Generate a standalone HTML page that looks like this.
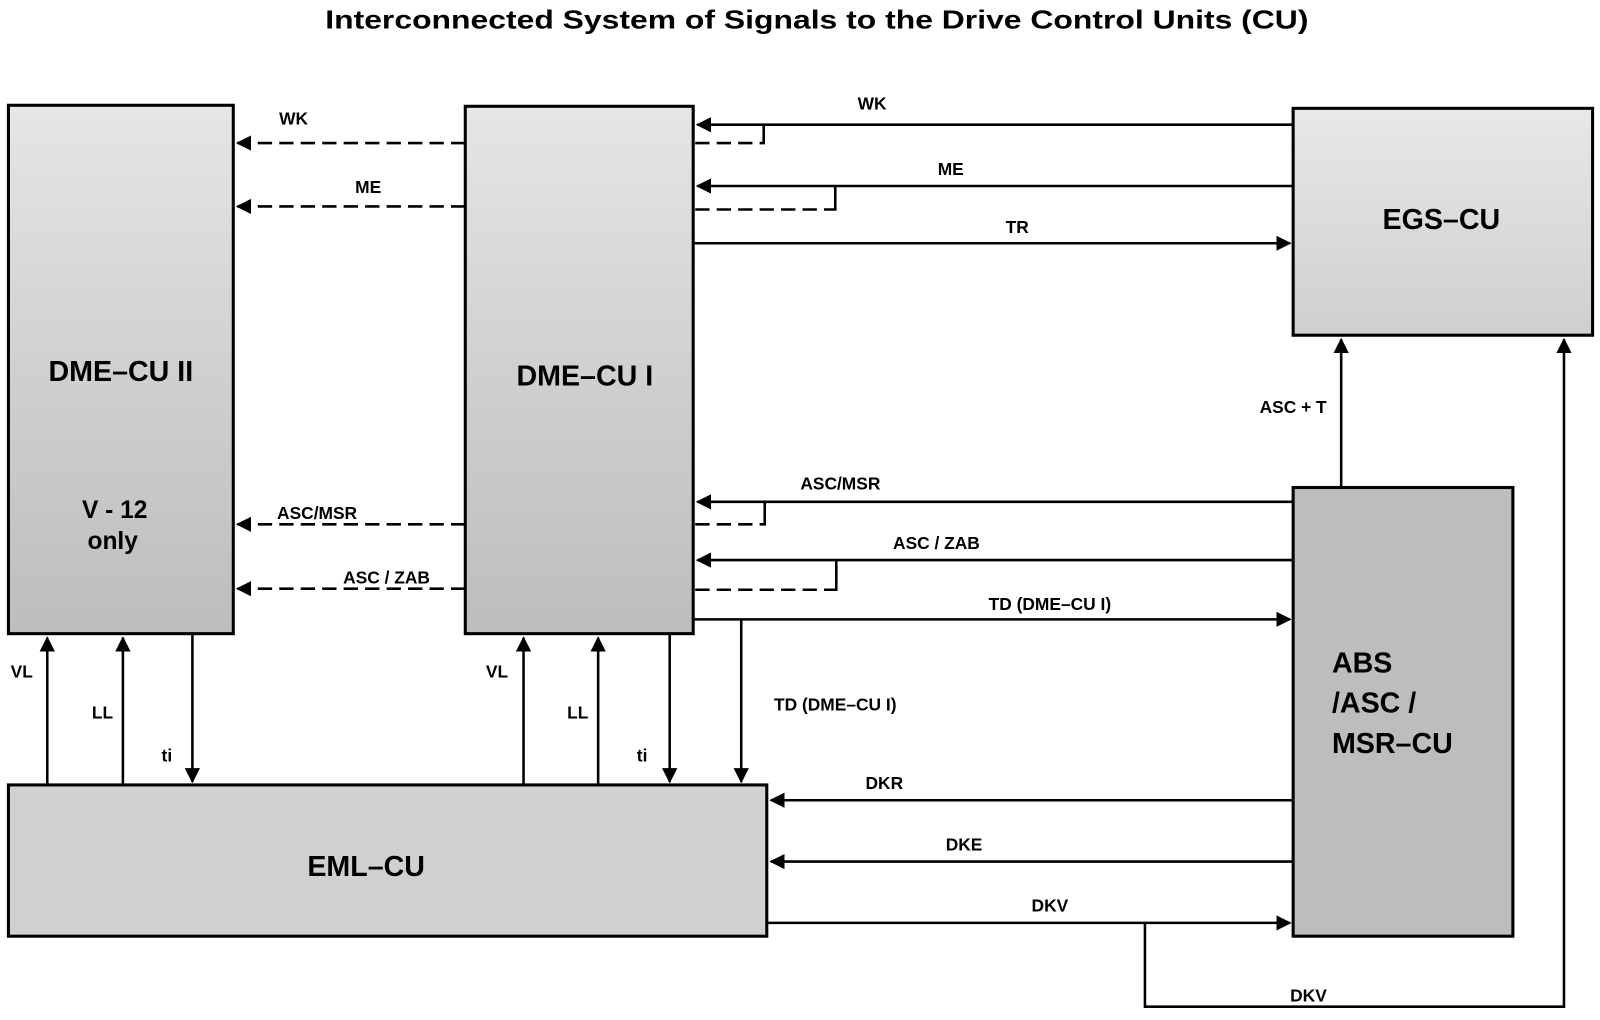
<!DOCTYPE html>
<html><head><style>html,body{margin:0;padding:0;background:#fff}svg{display:block}</style></head>
<body>
<svg width="1600" height="1020" viewBox="0 0 1565 998" xmlns="http://www.w3.org/2000/svg" font-family="Liberation Sans, sans-serif" font-weight="bold">
<defs>
<linearGradient id="g1" x1="0" y1="0" x2="0" y2="1"><stop offset="0" stop-color="#e6e6e6"/><stop offset="0.5" stop-color="#d0d0d0"/><stop offset="1" stop-color="#bdbdbd"/></linearGradient>
<linearGradient id="g2" x1="0" y1="0" x2="0" y2="1"><stop offset="0" stop-color="#e8e8e8"/><stop offset="1" stop-color="#cfcfcf"/></linearGradient>
<marker id="a" viewBox="0 0 10 10" refX="9" refY="5" markerWidth="6" markerHeight="6" orient="auto-start-reverse"><path d="M0,0L10,5L0,10z" fill="#000"/></marker>
</defs>
<text x="318" y="28" font-size="25" textLength="962" lengthAdjust="spacingAndGlyphs">Interconnected System of Signals to the Drive Control Units (CU)</text>
<g stroke="#000" stroke-width="3">
<rect x="8" y="103" width="220" height="517" fill="url(#g1)"/>
<rect x="455" y="104" width="223" height="516" fill="url(#g1)"/>
<rect x="1265" y="106" width="293" height="222" fill="url(#g2)"/>
<rect x="1265" y="477" width="215" height="439" fill="#bdbdbd"/>
<rect x="8" y="768" width="742" height="148" fill="#d0d0d0"/>
</g>
<g stroke="#000" stroke-width="2.5" fill="none">
<g stroke-dasharray="14,7">
<line x1="455" y1="140" x2="232" y2="140" marker-end="url(#a)"/>
<line x1="455" y1="202" x2="232" y2="202" marker-end="url(#a)"/>
<line x1="455" y1="513" x2="232" y2="513" marker-end="url(#a)"/>
<line x1="455" y1="576" x2="232" y2="576" marker-end="url(#a)"/>
</g>
<polyline points="680,140 747,140 747,122" stroke-dasharray="14,7"/>
<polyline points="680,205 817,205 817,182" stroke-dasharray="14,7"/>
<polyline points="680,513 748,513 748,491" stroke-dasharray="14,7"/>
<polyline points="680,577 818,577 818,548" stroke-dasharray="14,7"/>
<line x1="747" y1="122" x2="747" y2="140"/>
<line x1="817" y1="182" x2="817" y2="205"/>
<line x1="748" y1="491" x2="748" y2="513"/>
<line x1="818" y1="548" x2="818" y2="577"/>
<line x1="1265" y1="122" x2="682" y2="122" marker-end="url(#a)"/>
<line x1="1265" y1="182" x2="682" y2="182" marker-end="url(#a)"/>
<line x1="678" y1="238" x2="1262" y2="238" marker-end="url(#a)"/>
<line x1="1265" y1="491" x2="682" y2="491" marker-end="url(#a)"/>
<line x1="1265" y1="548" x2="682" y2="548" marker-end="url(#a)"/>
<line x1="678" y1="606" x2="1262" y2="606" marker-end="url(#a)"/>
<line x1="1312" y1="477" x2="1312" y2="332" marker-end="url(#a)"/>
<line x1="1265" y1="783" x2="754" y2="783" marker-end="url(#a)"/>
<line x1="1265" y1="843" x2="754" y2="843" marker-end="url(#a)"/>
<line x1="750" y1="903" x2="1262" y2="903" marker-end="url(#a)"/>
<polyline points="1120,903 1120,985 1530,985 1530,332" marker-end="url(#a)"/>
<line x1="46" y1="768" x2="46" y2="624" marker-end="url(#a)"/>
<line x1="120" y1="768" x2="120" y2="624" marker-end="url(#a)"/>
<line x1="188" y1="620" x2="188" y2="765" marker-end="url(#a)"/>
<line x1="512" y1="768" x2="512" y2="624" marker-end="url(#a)"/>
<line x1="585" y1="768" x2="585" y2="624" marker-end="url(#a)"/>
<line x1="655" y1="620" x2="655" y2="765" marker-end="url(#a)"/>
<line x1="725" y1="606" x2="725" y2="765" marker-end="url(#a)"/>
</g>
<g font-size="17" text-anchor="middle">
<text x="287" y="122">WK</text><text x="360" y="189">ME</text>
<text x="310" y="508">ASC/MSR</text><text x="378" y="571">ASC / ZAB</text>
<text x="853" y="107">WK</text><text x="930" y="171">ME</text><text x="995" y="228">TR</text>
<text x="822" y="479">ASC/MSR</text><text x="916" y="537">ASC / ZAB</text>
<text x="1027" y="597">TD (DME–CU I)</text><text x="817" y="695">TD (DME–CU I)</text>
<text x="1265" y="404">ASC + T</text>
<text x="865" y="772">DKR</text><text x="943" y="832">DKE</text><text x="1027" y="892">DKV</text><text x="1280" y="980">DKV</text>
<text x="21" y="663">VL</text><text x="100" y="703">LL</text><text x="163" y="745">ti</text>
<text x="486" y="663">VL</text><text x="565" y="703">LL</text><text x="628" y="745">ti</text>
</g>
<g font-size="28" text-anchor="middle">
<text x="118" y="373">DME–CU II</text><text x="572" y="377">DME–CU I</text>
<text x="1410" y="224">EGS–CU</text><text x="358" y="857">EML–CU</text>
<text x="112" y="507" font-size="24">V - 12</text><text x="110" y="537" font-size="24">only</text>
<text x="1303" y="658" text-anchor="start">ABS</text><text x="1303" y="697" text-anchor="start">/ASC /</text><text x="1303" y="737" text-anchor="start">MSR–CU</text>
</g>
</svg>
</body></html>
